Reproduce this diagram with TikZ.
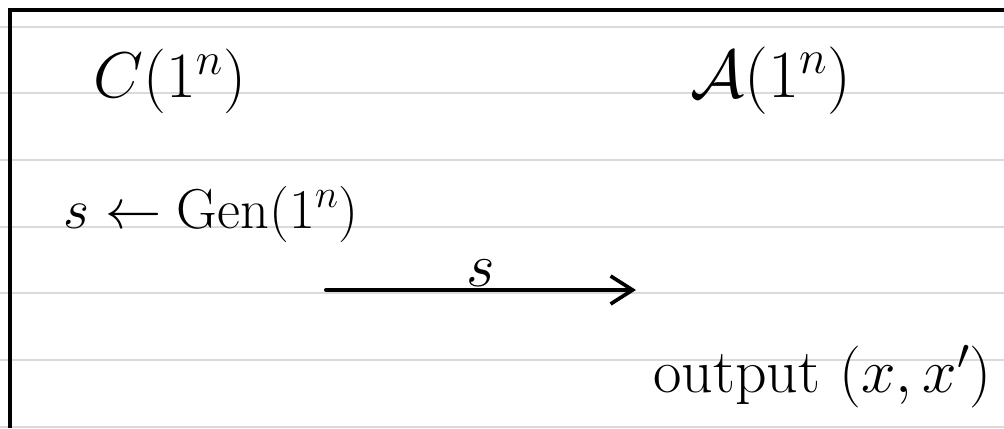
\RequirePackage{fix-cm}
\documentclass[tikz,border=0pt]{standalone}
\usepackage{amsmath}
\usepackage{tikz}
\usetikzlibrary{arrows.meta, positioning}
\definecolor{noterule}{HTML}{DADADA}
\tikzset{
  ruleline/.style={draw=noterule, line width=1.4pt},
  pageedge/.style={draw=black, line width=2.4pt},
  notetext/.style={font=\fontsize{#1}{#1}\selectfont, inner sep=0pt, anchor=base west},
  notetext/.default=46,
  notearrow/.style={-{Straight Barb[length=5.5mm, width=7mm, line width=2.6pt]},
    line width=2.8pt, line cap=round},
  notelabel/.style={font=\fontsize{44}{50}\selectfont, inner sep=1pt},
}

\begin{document}
\begin{tikzpicture}
  \useasboundingbox (0,0) rectangle (25.1,10.7);
  \fill[white] (0,0) rectangle (25.1,10.7);
  % ruled paper
  \foreach \i in {0,...,6}
    \draw[ruleline] (0,{10.033-\i*1.6667}) -- (25.1,{10.033-\i*1.6667});
  \draw[pageedge] (25.1,10.45) -- (0.25,10.45) -- (0.25,0);

  \node[notetext] (chal) at (2.33,8.25) {$C(1^n)$};
  \node[notetext=48] (adv) at (17.25,8.25) {$\mathcal{A}(1^n)$};
  \node[notetext=40] (gen) at (1.58,5.0) {$s \leftarrow \mathrm{Gen}(1^n)$};
  \node[notetext=44] (out) at (16.33,0.9) {output $(x, x')$};

  \coordinate (sfrom) at (8.15,3.45);
  \coordinate (sto) at (15.9,3.45);
  \draw[notearrow] (sfrom) -- node[notelabel, above] (sval) {$s$} (sto);
\end{tikzpicture}
\end{document}
